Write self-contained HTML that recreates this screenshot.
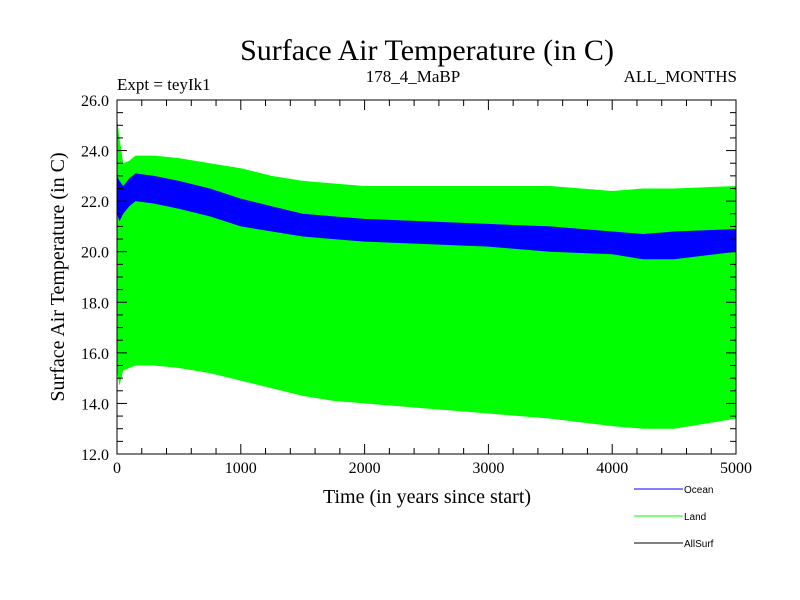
<!DOCTYPE html>
<html><head><meta charset="utf-8"><style>
body{margin:0;background:#fff}
svg{display:block;font-family:"Liberation Serif",serif}
</style></head><body>
<svg width="800" height="600" xmlns="http://www.w3.org/2000/svg">
<text x="427" y="60" font-size="30" text-anchor="middle">Surface Air Temperature (in C)</text>
<text x="117" y="90" font-size="17">Expt = teyIk1</text>
<text x="413" y="82" font-size="17" text-anchor="middle">178_4_MaBP</text>
<text x="737" y="82" font-size="17" text-anchor="end">ALL_MONTHS</text>
<g id="plot"></g>
<text x="427" y="503" font-size="20" text-anchor="middle">Time (in years since start)</text>
<text transform="translate(64,277) rotate(-90)" font-size="20" text-anchor="middle">Surface Air Temperature (in C)</text>
<g font-family="Liberation Sans,sans-serif" font-size="10">
<line x1="634" y1="489" x2="683" y2="489" stroke="#0000ff"/>
<text x="684" y="493">Ocean</text>
<line x1="634" y1="516" x2="683" y2="516" stroke="#00ff00"/>
<text x="684" y="520">Land</text>
<line x1="634" y1="543" x2="683" y2="543" stroke="#000"/>
<text x="684" y="547">AllSurf</text>
</g>
</svg>
<script>
const years=[0,20,50,100,150,300,500,750,1000,1250,1500,1750,2000,2500,3000,3500,4000,4250,4500,5000];
const landHi=[25.3,24.5,23.5,23.6,23.8,23.8,23.7,23.5,23.3,23.0,22.8,22.7,22.6,22.6,22.6,22.6,22.4,22.5,22.5,22.6];
const landLo=[15.3,14.7,15.3,15.4,15.5,15.5,15.4,15.2,14.9,14.6,14.3,14.1,14.0,13.8,13.6,13.4,13.1,13.0,13.0,13.4];
const oceanHi=[23.0,22.8,22.6,22.9,23.1,23.0,22.8,22.5,22.1,21.8,21.5,21.4,21.3,21.2,21.1,21.0,20.8,20.7,20.8,20.9];
const oceanLo=[21.5,21.2,21.5,21.8,22.0,21.9,21.7,21.4,21.0,20.8,20.6,20.5,20.4,20.3,20.2,20.0,19.9,19.7,19.7,20.0];
const xTicks=[0,1000,2000,3000,4000,5000];
const yTicks=[12,14,16,18,20,22,24,26];
const L=117,R=736,T=100,B=454,ns="http://www.w3.org/2000/svg";
const X=v=>L+(v-0)/5000*(R-L), Y=v=>B-(v-12)/14*(B-T);
const g=document.getElementById('plot');
function mk(t,a){const e=document.createElementNS(ns,t);for(const k in a)e.setAttribute(k,a[k]);g.appendChild(e);return e;}
function band(hi,lo,c){let p=years.map((y,i)=>X(y)+','+Y(hi[i]));for(let i=years.length-1;i>=0;i--)p.push(X(years[i])+','+Y(lo[i]));return mk('polygon',{points:p.join(' '),fill:c});}
const lb=band(landHi,landLo,'#00ff00');


const ob=band(oceanHi,oceanLo,'#0000ff');


const fr=mk('rect',{x:L,y:T,width:R-L,height:B-T,fill:'none',stroke:'#000','stroke-width':1});


for(let v=0;v<=5000;v+=200){const big=v%1000===0,len=big?10:6;mk('line',{x1:X(v),y1:B,x2:X(v),y2:B-len,stroke:'#000'});mk('line',{x1:X(v),y1:T,x2:X(v),y2:T+len,stroke:'#000'});}
for(let v=12;v<=26.001;v+=0.5){const big=Math.abs(v%2)<1e-6,len=big?10:6;mk('line',{x1:L,y1:Y(v),x2:L+len,y2:Y(v),stroke:'#000'});mk('line',{x1:R,y1:Y(v),x2:R-len,y2:Y(v),stroke:'#000'});}
xTicks.forEach(v=>{const t=mk('text',{x:X(v),y:B+19,'font-size':16,'text-anchor':'middle'});t.textContent=v;

});
yTicks.forEach(v=>{const t=mk('text',{x:L-8,y:Y(v)+6,'font-size':16,'text-anchor':'end'});t.textContent=v.toFixed(1);

});
</script>
</body></html>
